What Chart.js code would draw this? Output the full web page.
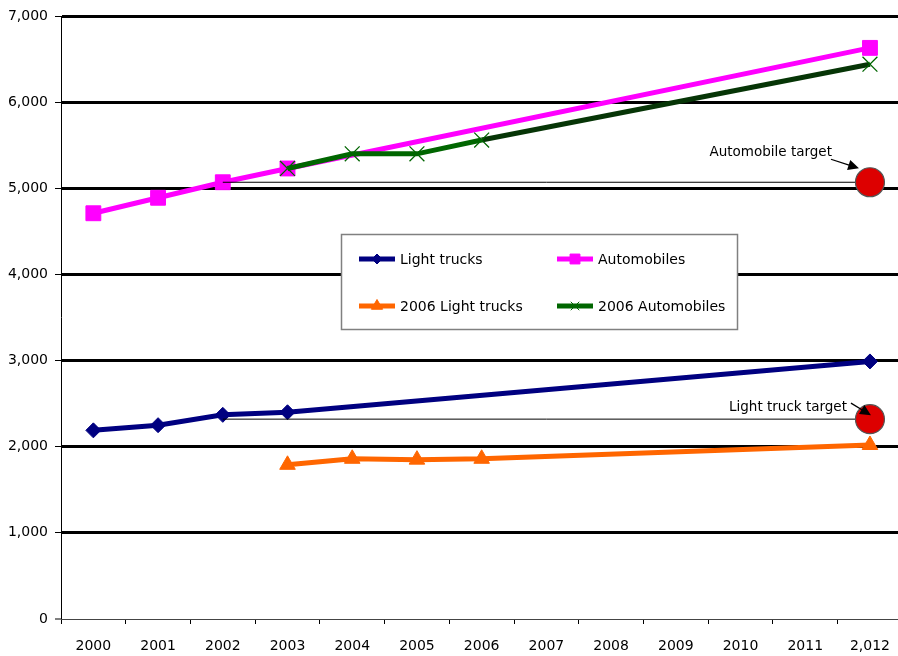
<!DOCTYPE html>
<html>
<head>
<meta charset="utf-8">
<script src="https://cdn.jsdelivr.net/npm/chart.js@4/dist/chart.umd.min.js"></script>
<style>
  html, body { margin: 0; padding: 0; background: #fff; overflow: hidden; }
  #wrap { width: 904px; height: 656px; }
</style>
</head>
<body>
<div id="wrap"><canvas id="chart" width="904" height="656"></canvas></div>
<script>
// Anos (o último rótulo vem assim mesmo, com vírgula)
const anos = ['2000', '2001', '2002', '2003', '2004', '2005', '2006', '2007', '2008', '2009', '2010', '2011', '2,012'];

// Séries principais
const lightTrucks = [2190, 2250, 2370, 2400, null, null, null, null, null, null, null, null, 2990];
const automobiles = [4710, 4890, 5070, 5230, null, null, null, null, null, null, null, null, 6630];

// Projeções de 2006
const lightTrucks2006 = [null, null, null, 1790, 1860, 1850, 1860, null, null, null, null, null, 2020];
const automobiles2006 = [null, null, null, 5230, 5400, 5400, 5560, null, null, null, null, null, 6440];

// Metas (linha a partir de 2002 até o ponto final)
const metaAuto = [null, null, 5070, null, null, null, null, null, null, null, null, null, 5070];
const metaTruck = [null, null, 2320, null, null, null, null, null, null, null, null, null, 2320];

const yTicks = [0, 1000, 2000, 3000, 4000, 5000, 6000, 7000];

const FONTE = 'DejaVu Sans, Verdana, sans-serif';
Chart.defaults.font.family = FONTE;
Chart.defaults.color = '#000';

// Só mostra marcador no último ponto (2012)
function soUltimo(r) {
  return ctx => ctx.dataIndex === anos.length - 1 ? r : 0;
}

const datasets = [
  {
    label: 'Light trucks', data: lightTrucks, order: 4,
    borderColor: '#000080', backgroundColor: '#000080', borderWidth: 5,
    pointStyle: 'rectRot', pointRadius: 7.5, pointBorderWidth: 1, spanGaps: true
  },
  {
    label: 'Automobiles', data: automobiles, order: 3,
    borderColor: '#FF00FF', backgroundColor: '#FF00FF', borderWidth: 5,
    pointStyle: 'rect', pointRadius: 10.5, pointBorderWidth: 1, spanGaps: true
  },
  {
    label: '2006 Light trucks', data: lightTrucks2006, order: 5,
    borderColor: '#FF6600', backgroundColor: '#FF6600', borderWidth: 5,
    pointStyle: 'triangle', pointRadius: 9, pointBorderWidth: 1, spanGaps: true
  },
  {
    label: '2006 Automobiles', data: automobiles2006, order: 2,
    borderColor: '#006600', backgroundColor: '#006600', borderWidth: 5,
    pointStyle: 'crossRot', pointRadius: 10.5, pointBorderWidth: 1.3, spanGaps: true,
    segment: { borderColor: ctx => ctx.p0DataIndex >= 6 ? '#063506' : '#006600' }
  },
  {
    label: 'Automobile target', data: metaAuto, order: 0,
    borderColor: '#000', borderWidth: 1, spanGaps: true,
    backgroundColor: '#DD0000', pointBorderColor: '#555', pointBorderWidth: 1.2,
    pointRadius: soUltimo(14.5), pointStyle: 'circle'
  },
  {
    label: 'Light truck target', data: metaTruck, order: 1,
    borderColor: '#000', borderWidth: 1, spanGaps: true,
    backgroundColor: '#DD0000', pointBorderColor: '#555', pointBorderWidth: 1.2,
    pointRadius: soUltimo(14.5), pointStyle: 'circle'
  }
];

// Legenda desenhada à mão dentro da área do gráfico
const legendaCaixa = {
  id: 'legendaCaixa',
  afterDatasetsDraw(chart) {
    const ctx = chart.ctx;
    ctx.save();
    ctx.fillStyle = '#fff';
    ctx.strokeStyle = '#808080';
    ctx.lineWidth = 1.5;
    ctx.fillRect(341, 234, 396, 95);
    ctx.strokeRect(341.5, 234.5, 396, 95);

    const itens = [
      { ds: 0, x: 359, y: 259, r: 5 },
      { ds: 1, x: 557, y: 259, r: 7 },
      { ds: 2, x: 359, y: 306, r: 6.5 },
      { ds: 3, x: 557, y: 306, r: 6 }
    ];
    itens.forEach(it => {
      const d = chart.data.datasets[it.ds];
      ctx.strokeStyle = d.borderColor;
      ctx.lineWidth = d.borderWidth;
      ctx.beginPath();
      ctx.moveTo(it.x, it.y);
      ctx.lineTo(it.x + 36, it.y);
      ctx.stroke();
      ctx.fillStyle = d.backgroundColor;
      ctx.strokeStyle = d.borderColor;
      ctx.lineWidth = 1;
      Chart.helpers.drawPoint(ctx, { pointStyle: d.pointStyle, radius: it.r, borderWidth: 1, rotation: 0 }, it.x + 18, it.y);
      ctx.fillStyle = '#000';
      ctx.font = '14px ' + FONTE;
      ctx.textBaseline = 'middle';
      ctx.textAlign = 'left';
      ctx.fillText(d.label, it.x + 41, it.y + 1);
    });
    ctx.restore();
  }
};

function seta(ctx, x1, y1, x2, y2) {
  const ang = Math.atan2(y2 - y1, x2 - x1);
  const tam = 12, abre = 0.45;
  ctx.beginPath();
  ctx.moveTo(x1, y1);
  ctx.lineTo(x2 - Math.cos(ang) * tam * 0.8, y2 - Math.sin(ang) * tam * 0.8);
  ctx.stroke();
  ctx.beginPath();
  ctx.moveTo(x2, y2);
  ctx.lineTo(x2 - tam * Math.cos(ang - abre), y2 - tam * Math.sin(ang - abre));
  ctx.lineTo(x2 - tam * Math.cos(ang + abre), y2 - tam * Math.sin(ang + abre));
  ctx.closePath();
  ctx.fill();
}

// Rótulos das metas com setas apontando para os círculos
const rotulosMeta = {
  id: 'rotulosMeta',
  afterDatasetsDraw(chart) {
    const ctx = chart.ctx;
    const x = chart.scales.x, y = chart.scales.y;
    const ult = anos.length - 1;
    const px = x.getPixelForValue(ult);
    const pyA = y.getPixelForValue(metaAuto[ult]);
    const pyT = y.getPixelForValue(metaTruck[ult]);
    ctx.save();
    ctx.fillStyle = '#000';
    ctx.strokeStyle = '#000';
    ctx.lineWidth = 1.3;
    ctx.font = '13.5px ' + FONTE;
    ctx.textBaseline = 'middle';
    ctx.textAlign = 'right';
    ctx.fillText('Automobile target', px - 38, pyA - 30);
    seta(ctx, px - 39, pyA - 23, px - 11, pyA - 14);
    ctx.fillText('Light truck target', px - 23, pyT - 12);
    seta(ctx, px - 19, pyT - 16, px + 1, pyT - 4);
    ctx.restore();
  }
};

new Chart(document.getElementById('chart'), {
  type: 'line',
  data: { labels: anos, datasets: datasets },
  options: {
    responsive: false,
    animation: false,
    // sem folga automática pelos círculos grandes: a área vai até a borda
    layout: { autoPadding: false, padding: { top: 16, left: 0, right: 0, bottom: 0 } },
    plugins: { legend: { display: false }, tooltip: { enabled: false } },
    scales: {
      x: {
        type: 'category',
        offset: true,
        grid: { offset: true, drawOnChartArea: false, drawTicks: true, tickLength: 5, tickColor: '#000', tickWidth: 1 },
        border: { display: true, color: '#444', width: 1 },
        ticks: { font: { size: 14 }, color: '#000', padding: 14, maxRotation: 0, autoSkip: false },
        afterFit: s => { s.height = 37; }
      },
      y: {
        min: 0, max: 7000,
        afterBuildTicks: s => { s.ticks = yTicks.map(v => ({ value: v })); },
        grid: {
          color: '#000',
          lineWidth: ctx => ctx.tick && ctx.tick.value === 0 ? 0 : 3,
          drawTicks: true, tickLength: 6, tickColor: '#000', tickWidth: 1
        },
        border: { display: true, color: '#000', width: 1 },
        ticks: {
          font: { size: 14 }, color: '#000', padding: 7,
          callback: v => v.toLocaleString('en-US')
        },
        afterFit: s => { s.width = 61; }
      }
    }
  },
  plugins: [legendaCaixa, rotulosMeta]
});
</script>
</body>
</html>
